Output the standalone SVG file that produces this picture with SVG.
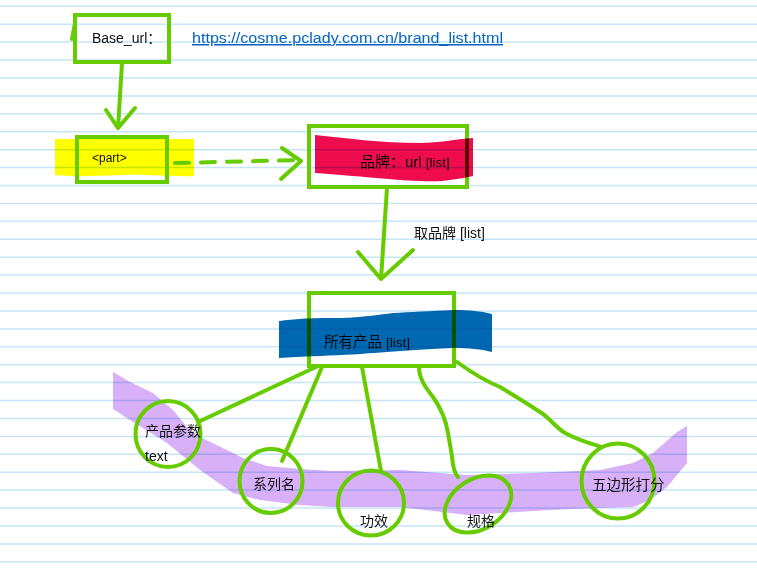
<svg xmlns="http://www.w3.org/2000/svg" width="757" height="574" viewBox="0 0 757 574">
<style>
.rule{stroke:#c6e6f7;stroke-width:1.5;fill:none}
.g{stroke:#66cc00;stroke-width:4;fill:none;stroke-linecap:round;stroke-linejoin:round}
.box{stroke:#66cc00;stroke-width:4;fill:none}
.hl{mix-blend-mode:multiply;stroke:none}
.t{font-family:"Liberation Sans","Noto Sans CJK SC",sans-serif;font-size:14px;fill:#111}
.s{font-size:12px}
.link{fill:#0563c1;font-size:15px;text-decoration:underline}
</style>
<rect width="757" height="574" fill="#fff"/>
<path class="rule" d="M0 6.3H757M0 24.2H757M0 42.1H757M0 60.1H757M0 78H757M0 95.9H757M0 113.8H757M0 131.7H757M0 149.7H757M0 167.6H757M0 185.5H757M0 203.4H757M0 221.3H757M0 239.3H757M0 257.2H757M0 275.1H757M0 293H757M0 310.9H757M0 328.9H757M0 346.8H757M0 364.7H757M0 382.6H757M0 400.5H757M0 418.5H757M0 436.4H757M0 454.3H757M0 472.2H757M0 490.1H757M0 508.1H757M0 526H757M0 543.9H757M0 561.8H757"/>
<path class="hl" fill="#d8b0f8" d="M113 372 L130 382 L153 393 L173 410 L187 427 L200 437 L227 450 L243 458 L267 466 L300 469 L333 471 L400 470 L467 475 L533 473 L600 470 L633 463 L653 453 L677 432 L687 426 L687 463 L667 487 L650 500 L633 507 L600 508 L550 510 L500 513 L467 515 L400 507 L333 507 L300 505 L260 500 L233 493 L200 470 L167 443 L133 422 L113 409 Z"/>
<g id="connectors">
<path class="g" d="M122 63 L118 128 M106 110 L118 128 L135 108"/>
<path class="g" d="M175 163 L300 160" stroke-dasharray="14 12"/>
<path class="g" d="M282 148 L301 161 L281 179"/>
<path class="g" d="M387 188 L381 279 M358 252 L381 279 L413 250"/>
<text class="t" x="414" y="238">取品牌 [list]</text>
<path class="g" d="M316 367 L198 422"/>
<path class="g" d="M322 367 L282 461"/>
<path class="g" d="M362 367 L381 471"/>
<path class="g" d="M419 367 C419 378 425 387 433 397 C440 407 446 420 448 433 C450 445 452 455 452 457 C453 468 455 474 458 477"/>
<path class="g" d="M457 362 C475 375 490 383 500 387 C515 396 528 404 540 412 C550 418 555 427 565 433 C580 441 592 444 602 447"/>
</g>
<g id="base_url">
<rect class="box" x="75" y="15" width="94" height="47"/>
<path class="g" d="M72 39 L75 23"/>
<text class="t" x="92" y="43">Base_url：</text>
</g>
<g id="url">
<text class="t link" x="192" y="43" textLength="311" lengthAdjust="spacingAndGlyphs">https://cosme.pclady.com.cn/brand_list.html</text>
</g>
<g id="part">
<rect class="box" x="77" y="137" width="90" height="45"/>
<text class="t s" x="92" y="162">&lt;part&gt;</text>
<path class="hl" fill="#ffff00" d="M55 139 L194 139 L194 176 C170 177 150 174 120 175 C95 176 75 177 55 175 Z"/>
</g>
<g id="brand">
<rect class="box" x="309" y="126" width="158" height="61"/>
<text class="t" x="360" y="167" style="font-size:15px">品牌：url <tspan style="font-size:13.5px">[list]</tspan></text>
<path class="hl" fill="#ee0c4e" d="M315 135 C345 138 380 143 420 143 C440 143 455 139 473 138 L473 176 C455 180 440 182 420 181 C390 180 360 176 315 173 Z"/>
</g>
<g id="products">
<rect class="box" x="309" y="293" width="145" height="73"/>
<text class="t" x="324" y="347" style="font-size:14.5px">所有产品 <tspan style="font-size:13.5px">[list]</tspan></text>
<path class="hl" fill="#0068b0" d="M279 321 C295 319 307 318 335 318 C350 318 363 317 393 313 C410 312 430 311 453 310 C470 310 480 311 492 314 L492 352 C480 349 470 348 453 348 C430 349 410 350 387 352 C360 354 345 355 320 356 C300 357 290 357 279 358 Z"/>
</g>
<g id="params">
<ellipse class="box" cx="168" cy="434" rx="32.5" ry="33"/>
<text class="t" x="145" y="436">产品参数</text>
<text class="t" x="145" y="461">text</text>
</g>
<g id="series">
<ellipse class="box" cx="271" cy="481" rx="31.5" ry="32"/>
<text class="t" x="253" y="489">系列名</text>
</g>
<g id="effect">
<ellipse class="box" cx="371" cy="503" rx="33" ry="32.5"/>
<text class="t" x="360" y="526">功效</text>
</g>
<g id="spec">
<ellipse class="box" cx="478" cy="504" rx="36" ry="25" transform="rotate(-32 478 504)"/>
<text class="t" x="467" y="526">规格</text>
</g>
<g id="score">
<ellipse class="box" cx="618" cy="481" rx="36.5" ry="37.5"/>
<text class="t" x="592" y="490" style="font-size:14.5px">五边形打分</text>
</g>
</svg>
